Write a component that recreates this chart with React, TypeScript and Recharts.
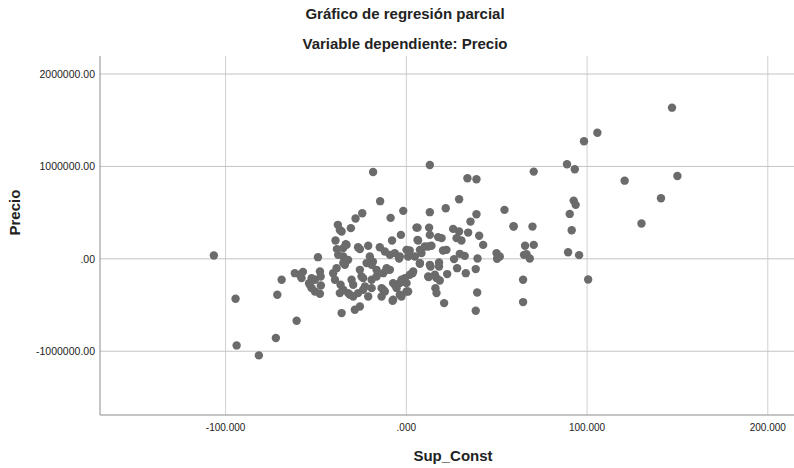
import { ScatterChart, Scatter, XAxis, YAxis, ReferenceLine } from 'recharts';

// Sup_Const residuals (x) and Precio residuals (y)
const supConst = [
  -106.5, -94.5, -93.9, -81.6, -72.2, -71.4, -69.0, -60.7, -61.7, -58.9,
  -58.0, -57.2, -52.4, -50.6, -53.8, -52.4, -50.6, -47.8, -47.8, -47.4,
  -47.3, -48.9, -40.5, -38.6, -39.5, -36.4, -36.8, -35.8, -37.7, -34.9,
  -34.0, -39.2, -38.4, -37.9, -36.8, -30.7, -33.5, -34.9, -32.2, -28.1,
  -24.4, -18.4, -14.5, -8.7, -1.7, -26.7, -25.7, -21.1, -14.7, -7.9,
  -3.0, 5.6, -20.2, -18.5, -16.5, -11.9, -9.1, -4.0, 0.1, 1.9,
  -53.4, -30.3, -29.4, -24.8, -22.9, -23.9, -31.2, -29.4, -19.2, -16.5,
  -12.8, -10.9, -13.7, -11.9, -6.4, -5.4, -3.6, -7.3, 1.0, -2.7,
  -0.8, 1.9, 3.8, -25.7, -21.1, -28.5, -34.9, -22.0, -19.2, -10.9,
  -9.1, -25.7, -34.9, -23.9, -32.2, -26.7, -19.2, -3.6, -7.3, -12.8,
  -13.7, -2.7, -7.6, -6.4, -3.6, 1.0, 7.5, 13.0, 12.1, 3.4,
  0.1, 13.0, 33.8, 38.8, 29.2, 54.3, 59.4, 13.0, 21.8, 38.8,
  35.5, 6.2, 12.6, 25.9, 29.2, 27.8, 30.5, 34.2, 40.3, 42.5,
  17.6, 19.5, 13.0, 6.5, 7.5, 10.2, 12.1, 13.9, 8.4, 4.7,
  20.3, 22.2, 29.6, 32.3, 26.4, 39.4, 49.9, 50.2, 7.5, 13.4,
  18.1, 18.1, 28.1, 32.9, 38.4, 22.6, 12.4, 15.8, 16.7, 18.5,
  0.1, 16.1, 16.7, 39.2, 20.9, 38.4, 65.1, 64.6, 64.6, 65.7,
  70.5, 66.5, 68.3, 51.7, 59.3, 69.8, 70.5, 88.9, 93.2, 98.3,
  105.7, 147.0, 120.8, 150.0, 140.9, 130.1, 92.6, 93.7, 90.4, 91.5,
  89.5, 95.6, 100.6, 6.2, -35.8, -33.1,
];

const precio = [
  36000, -432000, -937000, -1045000, -857000, -389000, -227000, -670000, -155000, -173000,
  -209000, -141000, -209000, -227000, -263000, -317000, -353000, -378000, -137000, -191000,
  -289000, 18000, -155000, -101000, -227000, -281000, -371000, -587000, 43000, 25000,
  -65000, 198000, 105000, 368000, 313000, 332000, 159000, 116000, -11000, 436000,
  494000, 940000, 624000, 443000, 519000, 126000, 105000, 141000, 126000, 198000,
  259000, 338000, 25000, -32000, -119000, 79000, 43000, 3000, 97000, 90000,
  -281000, -227000, -281000, -191000, -299000, -335000, -389000, -408000, -227000, -191000,
  -155000, -119000, -317000, -353000, -281000, -317000, -389000, -443000, -353000, -227000,
  -209000, -173000, -137000, -516000, -408000, -551000, -46000, -46000, -65000, -101000,
  -119000, -119000, -335000, -209000, -371000, -371000, -317000, -263000, -263000, -335000,
  -408000, -408000, -454000, 62000, 25000, 25000, -46000, -65000, -191000, -155000,
  -263000, 1016000, 872000, 862000, 645000, 530000, 349000, 505000, 548000, 483000,
  403000, 338000, 338000, 324000, 295000, 224000, 198000, 284000, 249000, 151000,
  235000, 224000, 259000, 198000, 97000, 133000, 133000, 141000, 62000, 25000,
  90000, 97000, 54000, 32000, -3000, 3000, 62000, 0, -54000, -83000,
  -40000, -83000, -101000, -155000, -111000, -165000, -198000, -173000, -209000, -235000,
  -353000, -317000, -371000, -364000, -479000, -562000, 43000, -227000, -468000, 141000,
  151000, 51000, 3000, 25000, 353000, 349000, 944000, 1024000, 970000, 1272000,
  1365000, 1636000, 846000, 897000, 656000, 382000, 630000, 584000, 486000, 310000,
  72000, 40000, -224000, 205000, 295000, 151000,
];

const xTicks = [-100, 0, 100, 200];
const yTicks = [-1000000, 0, 1000000, 2000000];

const points = supConst.map((x, i) => ({ x, y: precio[i] }));

const font = '"Liberation Sans", Arial, sans-serif';

const fmtX = (v: number) => (v === 0 ? '.000' : v.toFixed(3));
const fmtY = (v: number) => (v === 0 ? '.00' : v.toFixed(2));

const Dot = (props: any) => <circle cx={props.cx} cy={props.cy} r={4.2} fill="#6b6b6b" />;

const titleStyle: React.CSSProperties = {
  position: 'absolute',
  left: 0,
  width: 810,
  textAlign: 'center',
  fontSize: 15,
  fontWeight: 'bold',
  color: '#222',
};

export default function App() {
  return (
    <div style={{ position: 'absolute', left: 0, top: 0, width: 794, height: 468, background: '#fff', fontFamily: font }}>
      <div style={{ ...titleStyle, top: 5 }}>Gráfico de regresión parcial</div>
      <div style={{ ...titleStyle, top: 35 }}>Variable dependiente: Precio</div>
      <ScatterChart width={794} height={468} margin={{ top: 56, right: 0, bottom: 0, left: 0 }}>
        {xTicks.map((t) => (
          <ReferenceLine key={'x' + t} x={t} stroke="#d0d0d0" />
        ))}
        {yTicks.map((t) => (
          <ReferenceLine key={'y' + t} y={t} stroke="#c4c4c4" />
        ))}
        <XAxis
          type="number"
          dataKey="x"
          domain={[-169.5, 214.5]}
          ticks={xTicks}
          tickFormatter={fmtX}
          allowDataOverflow
          height={53}
          stroke="#8c8c8c"
          tickLine={false}
          tickSize={0}
          tickMargin={9}
          tick={{ fontSize: 10, fill: '#222', fontFamily: font }}
          label={{ value: 'Sup_Const', position: 'insideBottom', offset: 7, dx: 6, fontSize: 15, fontWeight: 'bold', fill: '#222', fontFamily: font }}
        />
        <YAxis
          type="number"
          dataKey="y"
          domain={[-1690000, 2195000]}
          ticks={yTicks}
          tickFormatter={fmtY}
          allowDataOverflow
          width={100}
          stroke="#8c8c8c"
          tickLine={false}
          tickSize={0}
          tickMargin={5}
          tick={{ fontSize: 10.5, fill: '#222', fontFamily: font }}
          label={{ value: 'Precio', angle: -90, position: 'insideLeft', offset: 15, fontSize: 15, fontWeight: 'bold', fill: '#222', fontFamily: font }}
        />
        <Scatter data={points} shape={<Dot />} isAnimationActive={false} />
      </ScatterChart>
    </div>
  );
}
